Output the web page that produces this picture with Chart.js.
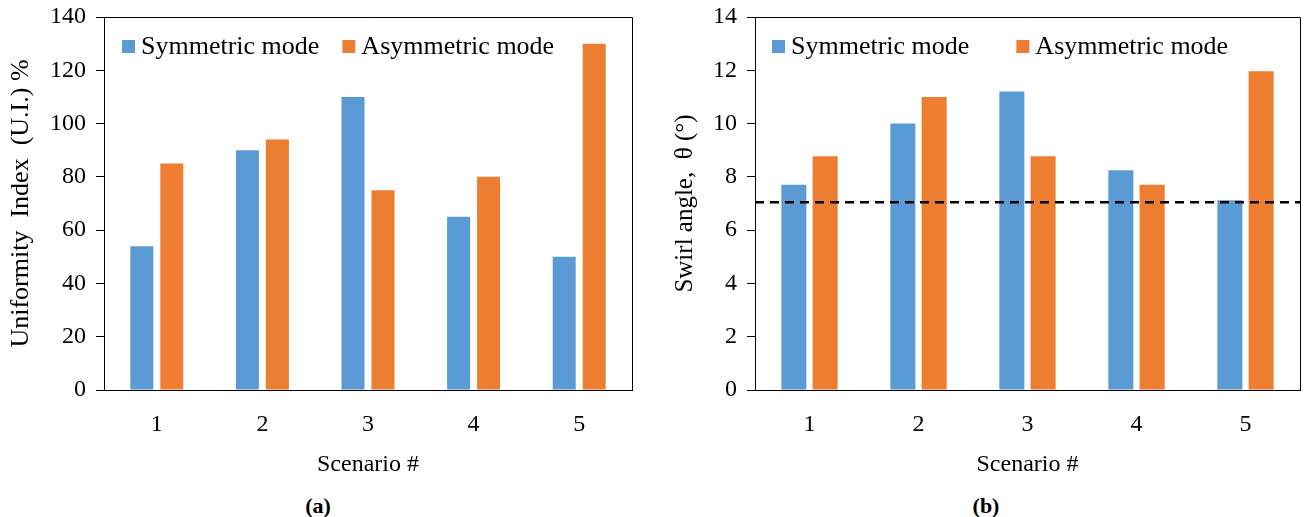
<!DOCTYPE html>
<html>
<head>
<meta charset="utf-8">
<script src="https://cdn.jsdelivr.net/npm/chart.js@4"></script>
<style>
    body { margin: 0; background: #fff; }
    .panel { position: absolute; top: 0; height: 480px; }
    .caption { position: absolute; top: 494px; font: bold 22px "Liberation Serif", serif; line-height: 24px; transform: translateX(-50%); }
</style>
</head>
<body>
<div class="panel" style="left:0; width:652px;"><canvas id="uniformityChart"></canvas></div>
<div class="panel" style="left:652px; width:653px;"><canvas id="swirlChart"></canvas></div>
<div class="caption" style="left:318px;">(a)</div>
<div class="caption" style="left:986px;">(b)</div>
<script>
// Data
const scenarios = ['1', '2', '3', '4', '5'];
const uniformitySymmetric = [54, 90, 110, 65, 50];
const uniformityAsymmetric = [85, 94, 75, 80, 130];
const swirlSymmetric = [7.7, 10, 11.2, 8.25, 7.12];
const swirlAsymmetric = [8.77, 11, 8.77, 7.7, 11.96];
const swirlReference = 7.05;

const BLUE = '#5B9BD5';
const ORANGE = '#ED7D31';
const FONT = '"Liberation Serif", "Times New Roman", serif';

// Draws the top and right edges of the plot box
const plotBox = {
    id: 'plotBox',
    afterDraw(chart) {
        const { ctx, chartArea } = chart;
        ctx.save();
        ctx.strokeStyle = '#000';
        ctx.lineWidth = 1;
        ctx.beginPath();
        ctx.moveTo(Math.round(chartArea.left), Math.round(chartArea.top) + 0.5);
        ctx.lineTo(Math.round(chartArea.right) + 0.5, Math.round(chartArea.top) + 0.5);
        ctx.lineTo(Math.round(chartArea.right) + 0.5, Math.round(chartArea.bottom));
        ctx.stroke();
        ctx.restore();
    }
};

// Legend drawn inside the plot area
const insideLegend = {
    id: 'insideLegend',
    afterDraw(chart, args, opts) {
        const { ctx, chartArea } = chart;
        ctx.save();
        ctx.font = '26px ' + FONT;
        ctx.textBaseline = 'middle';
        let x = chartArea.left + opts.offsetX;
        const y = chartArea.top + opts.offsetY;
        chart.data.datasets.forEach(function(ds) {
            ctx.fillStyle = ds.backgroundColor;
            ctx.fillRect(x, y - 6.5, 13, 13);
            ctx.fillStyle = '#000';
            ctx.fillText(ds.label, x + 19, y + 1);
            x += 19 + ctx.measureText(ds.label).width + opts.gap;
        });
        ctx.restore();
    }
};

// Dashed horizontal reference line across the plot
const refLine = {
    id: 'refLine',
    afterDatasetsDraw(chart, args, opts) {
        if (opts.value === undefined) return;
        const { ctx, chartArea, scales } = chart;
        const y = scales.y.getPixelForValue(opts.value);
        ctx.save();
        ctx.strokeStyle = '#000';
        ctx.lineWidth = 2.5;
        ctx.setLineDash([9, 6]);
        ctx.beginPath();
        ctx.moveTo(chartArea.left, y);
        ctx.lineTo(chartArea.right, y);
        ctx.stroke();
        ctx.restore();
    }
};

function createPanel(canvasId, cfg) {
    return new Chart(document.getElementById(canvasId), {
        type: 'bar',
        data: {
            labels: scenarios,
            datasets: [{
                label: 'Symmetric mode',
                data: cfg.symmetric,
                backgroundColor: BLUE,
                categoryPercentage: cfg.catPct,
                barPercentage: cfg.barPct
            }, {
                label: 'Asymmetric mode',
                data: cfg.asymmetric,
                backgroundColor: ORANGE,
                categoryPercentage: cfg.catPct,
                barPercentage: cfg.barPct
            }]
        },
        options: {
            responsive: true,
            maintainAspectRatio: false,
            animation: false,
            layout: {
                padding: { top: 17, right: cfg.padRight, left: 0, bottom: 0 }
            },
            scales: {
                x: {
                    grid: { display: false, drawTicks: false },
                    border: { display: true, color: '#000', width: 1 },
                    ticks: { color: '#000', padding: 20, font: { family: FONT, size: 24 } },
                    title: {
                        display: true,
                        text: 'Scenario #',
                        color: '#000',
                        padding: { top: 0, bottom: 1 },
                        font: { family: FONT, size: 24 }
                    },
                    afterFit: function(scale) {
                        scale.height = 90;
                        scale.paddingLeft = 0;
                        scale.paddingRight = 0;
                    }
                },
                y: {
                    min: 0,
                    max: cfg.max,
                    grid: { display: true, drawOnChartArea: false, drawTicks: true, tickLength: 8, color: '#000' },
                    border: { display: true, color: '#000', width: 1 },
                    ticks: { stepSize: cfg.step, color: '#000', padding: 10, font: { family: FONT, size: 24 } },
                    title: {
                        display: true,
                        text: cfg.yTitle,
                        color: '#000',
                        padding: { top: cfg.titlePad, bottom: 0 },
                        font: { family: FONT, size: cfg.titleSize }
                    },
                    afterFit: function(scale) {
                        scale.width = cfg.axisWidth;
                        scale.paddingTop = 0;
                        scale.paddingBottom = 0;
                    }
                }
            },
            plugins: {
                legend: { display: false },
                tooltip: { enabled: false },
                insideLegend: cfg.legend,
                refLine: { value: cfg.reference }
            }
        },
        plugins: [plotBox, insideLegend, refLine]
    });
}

document.addEventListener('DOMContentLoaded', function() {
    createPanel('uniformityChart', {
        symmetric: uniformitySymmetric,
        asymmetric: uniformityAsymmetric,
        max: 140,
        step: 20,
        yTitle: 'Uniformity  Index  (U.I.) %',
        titlePad: 6,
        titleSize: 26,
        axisWidth: 104,
        padRight: 20,
        catPct: 0.568,
        barPct: 0.767,
        legend: { offsetX: 18, offsetY: 29.5, gap: 23 }
    });

    createPanel('swirlChart', {
        symmetric: swirlSymmetric,
        asymmetric: swirlAsymmetric,
        max: 14,
        step: 2,
        yTitle: 'Swirl angle,  \u03B8 (\u00B0)',
        titlePad: 18,
        titleSize: 25,
        axisWidth: 103,
        padRight: 5,
        catPct: 0.574,
        barPct: 0.8,
        legend: { offsetX: 17, offsetY: 29.5, gap: 47 },
        reference: swirlReference
    });
});
</script>
</body>
</html>
